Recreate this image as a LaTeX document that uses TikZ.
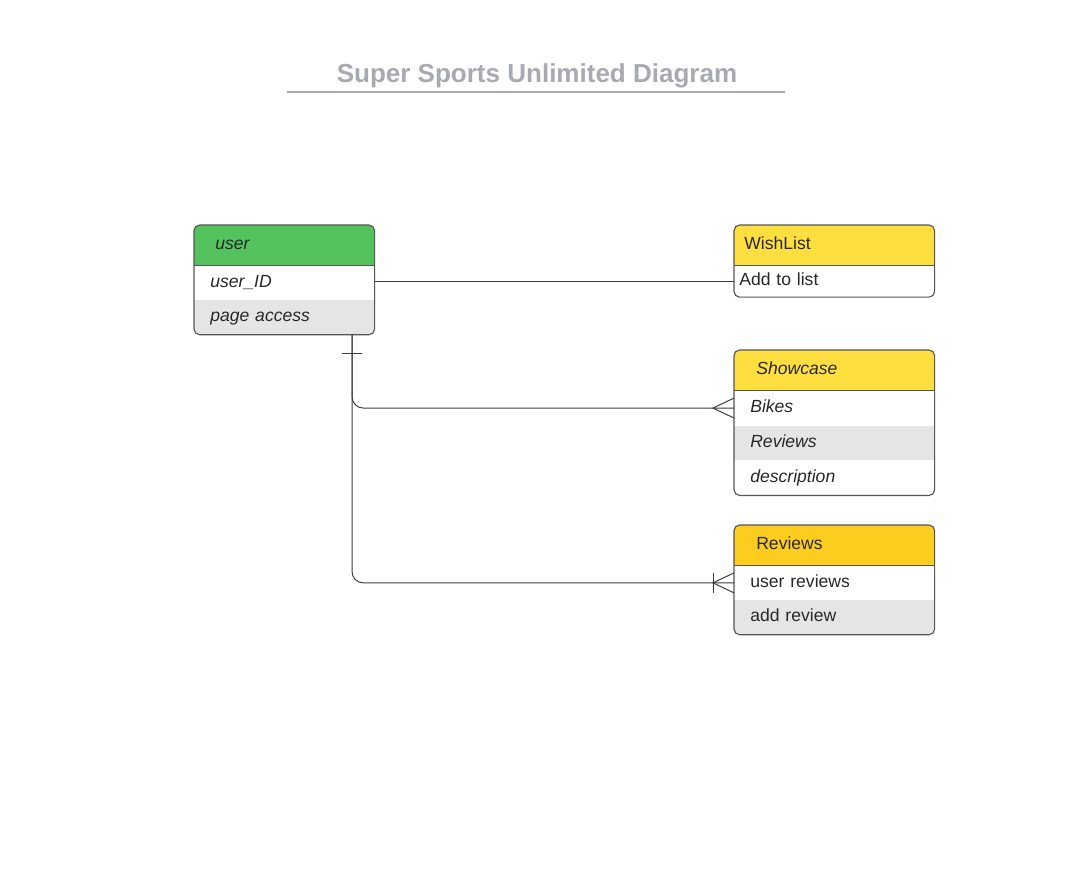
\documentclass[tikz,border=0pt]{standalone}
\usepackage{fontspec}
\setmainfont{Liberation Sans}
\usetikzlibrary{positioning}
\definecolor{usergreen}{RGB}{84,195,94}
\definecolor{listyellow}{RGB}{255,223,63}
\definecolor{revyellow}{RGB}{252,205,31}
\definecolor{rowgray}{RGB}{229,229,229}
\definecolor{celltext}{RGB}{40,40,40}
\definecolor{framegray}{RGB}{85,85,85}
\definecolor{linkgray}{RGB}{60,60,60}
\definecolor{titlegray}{RGB}{167,170,177}

\begin{document}
\begin{tikzpicture}[x=0.025cm, y=-0.025cm,
  cell/.style={anchor=north west, inner ysep=0pt, minimum height=0.875cm, align=left, fill=white, text=celltext, font=\fontsize{12.5}{14}\selectfont, text height=1.7ex, text depth=0.5ex},
  hdr/.style={cell, minimum height=1cm},
  lcell/.style={cell, inner xsep=0.4cm, text width=3.7cm},
  rcell/.style={cell, inner xsep=0.4cm, text width=4.2cm},
  frame/.style={draw=framegray, line width=0.8pt, rounded corners=4pt},
  link/.style={draw=linkgray, line width=0.7pt}]
\useasboundingbox (0,0) rectangle (1091,871);
% Title
\node[font=\fontsize{18.5}{22}\selectfont\bfseries, text=titlegray] (title) at (537,76) {Super Sports Unlimited Diagram};
\draw[titlegray, line width=1.2pt] (287,92) -- (785,92);
% user table
\begin{scope}
\clip[rounded corners=4pt] (194,225) rectangle (374,334);
\node[hdr, fill=usergreen, inner xsep=0.525cm, text width=3.45cm] (user) at (194,225) {\textit{user}};
\node[lcell, minimum height=0.85cm, below=0pt of user] (userid) {\textit{user\_ID}};
\node[lcell, minimum height=0.85cm, fill=rowgray, below=0pt of userid] (pageaccess) {\textit{page access}};
\end{scope}
\draw[frame] (user.north west) rectangle (pageaccess.south east);
\draw[frame] (user.south west) -- (user.south east);
% WishList table
\begin{scope}
\clip[rounded corners=4pt] (734,225) rectangle (934,296);
\node[hdr, fill=listyellow, inner xsep=0.25cm, text width=4.5cm] (wishlist) at (734,225) {WishList};
\node[cell, minimum height=0.775cm, inner xsep=0.125cm, text width=4.75cm, below=0pt of wishlist] (addlist) {Add to list};
\end{scope}
\draw[frame] (wishlist.north west) rectangle (addlist.south east);
\draw[frame] (wishlist.south west) -- (wishlist.south east);
% Showcase table
\begin{scope}
\clip[rounded corners=4pt] (734,350) rectangle (934,493);
\node[hdr, fill=listyellow, inner xsep=0.55cm, text width=3.9cm] (showcase) at (734,350) {\textit{Showcase}};
\node[rcell, minimum height=0.86cm, below=0pt of showcase] (bikes) {\textit{Bikes}};
\node[rcell, minimum height=0.86cm, fill=rowgray, below=0pt of bikes] (reviewsrow) {\textit{Reviews}};
\node[rcell, minimum height=0.86cm, below=0pt of reviewsrow] (description) {\textit{description}};
\end{scope}
\draw[frame] (showcase.north west) rectangle (description.south east);
\draw[frame] (showcase.south west) -- (showcase.south east);
% Reviews table
\begin{scope}
\clip[rounded corners=4pt] (734,525) rectangle (934,634);
\node[hdr, fill=revyellow, inner xsep=0.55cm, text width=3.9cm] (reviews) at (734,525) {Reviews};
\node[rcell, minimum height=0.85cm, below=0pt of reviews] (userrev) {user reviews};
\node[rcell, minimum height=0.85cm, fill=rowgray, below=0pt of userrev] (addrev) {add review};
\end{scope}
\draw[frame] (reviews.north west) rectangle (addrev.south east);
\draw[frame] (reviews.south west) -- (reviews.south east);
% Relations
\draw[link] (addlist.west -| userid.east) -- (addlist.west);
\coordinate (fork) at ([xshift=3.95cm]pageaccess.south west);
\draw[link, rounded corners=8pt] (fork) |- (bikes.west);
\draw[link, rounded corners=8pt] (fork) |- (userrev.west);
% one bar under user
\draw[link] ([xshift=-0.25cm, yshift=-0.475cm]fork) -- ([xshift=0.25cm, yshift=-0.475cm]fork);
% crow's feet
\draw[link] ([yshift=0.25cm]bikes.west) -- ([xshift=-0.525cm]bikes.west) -- ([yshift=-0.25cm]bikes.west);
\draw[link] ([yshift=0.25cm]userrev.west) -- ([xshift=-0.525cm]userrev.west) -- ([yshift=-0.25cm]userrev.west);
\draw[link] ([xshift=-0.525cm, yshift=0.25cm]userrev.west) -- ([xshift=-0.525cm, yshift=-0.25cm]userrev.west);
\end{tikzpicture}
\end{document}
